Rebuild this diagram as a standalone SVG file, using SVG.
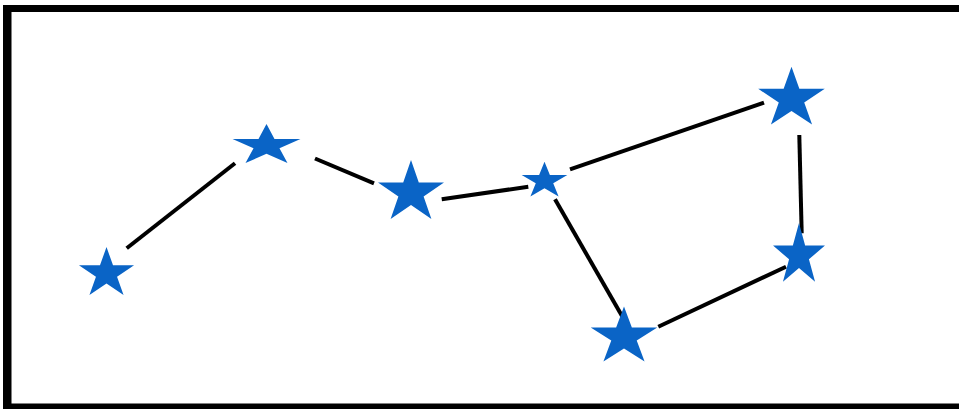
<svg xmlns="http://www.w3.org/2000/svg" xmlns:xlink="http://www.w3.org/1999/xlink" width="959" height="409" viewBox="0 0 959 409">
  <style>
    .frame { fill: #000; }
    .star { fill: #0a64c6; }
    .link { stroke: #000; stroke-width: 4; stroke-linecap: butt; fill: none; }
  </style>
  <defs>
    <path id="star" d="M0,-1 L0.2245,-0.309 L0.9511,-0.309 L0.3633,0.118 L0.5878,0.809 L0,0.382 L-0.5878,0.809 L-0.3633,0.118 L-0.9511,-0.309 L-0.2245,-0.309 Z"/>
  </defs>
  <rect x="0" y="0" width="959" height="409" fill="#fff"/>
  <g id="frame">
    <rect class="frame" x="3" y="5" width="956" height="7"/>
    <rect class="frame" x="3" y="5" width="8.5" height="404"/>
    <rect class="frame" x="3" y="403.5" width="956" height="5.5"/>
  </g>
  <g id="connectors">
    <line class="link" x1="126.7" y1="248.3" x2="235" y2="163.3"/>
    <line class="link" x1="315" y1="158.5" x2="374" y2="183.3"/>
    <line class="link" x1="441.7" y1="199.3" x2="528.3" y2="186.7"/>
    <line class="link" x1="570" y1="169.3" x2="764" y2="102.7"/>
    <line class="link" x1="799.3" y1="135" x2="801.7" y2="233.3"/>
    <line class="link" x1="786" y1="266.7" x2="658.3" y2="326.7"/>
    <line class="link" x1="555" y1="199.3" x2="623.3" y2="318.3"/>
  </g>
  <g id="star1"><use class="star" xlink:href="#star" href="#star" transform="translate(106.5 273.5) scale(29 26.5)"/></g>
  <g id="star2"><use class="star" xlink:href="#star" href="#star" transform="translate(266.5 145.6) scale(35.7 21.6)"/></g>
  <g id="star3"><use class="star" xlink:href="#star" href="#star" transform="translate(411 192.6) scale(34.7 32.6)"/></g>
  <g id="star4"><use class="star" xlink:href="#star" href="#star" transform="translate(544.5 181) scale(24 19.3)"/></g>
  <g id="star5"><use class="star" xlink:href="#star" href="#star" transform="translate(791.5 98.7) scale(35 32)"/></g>
  <g id="star6"><use class="star" xlink:href="#star" href="#star" transform="translate(799 255.5) scale(27.3 32.5)"/></g>
  <g id="star7"><use class="star" xlink:href="#star" href="#star" transform="translate(624 337) scale(35 30.4)"/></g>
</svg>
